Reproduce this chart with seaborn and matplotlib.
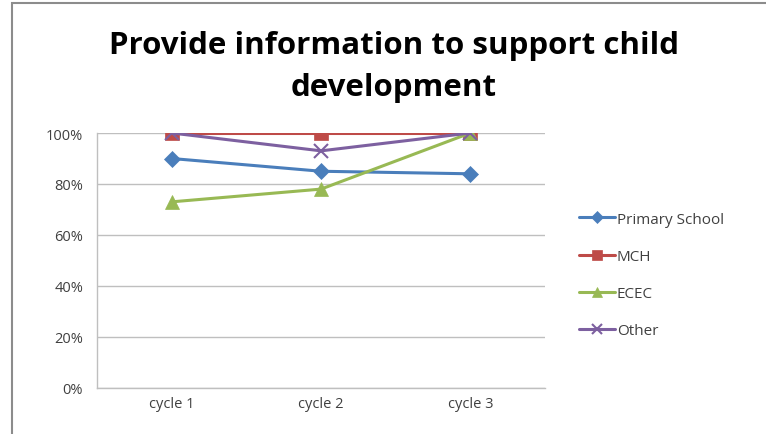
import matplotlib
matplotlib.use("Agg")
import matplotlib.pyplot as plt
from matplotlib.patches import Rectangle
from matplotlib.ticker import PercentFormatter
import seaborn as sns
import pandas as pd

cycles = ["cycle 1", "cycle 2", "cycle 3"]
series_names = ["Primary School", "MCH", "ECEC", "Other"]
primary_school = [0.90, 0.85, 0.84]
mch = [1.00, 1.00, 1.00]
ecec = [0.73, 0.78, 1.00]
other = [1.00, 0.93, 1.00]

colors = ["#4A7EBB", "#BE4B48", "#98B954", "#7D60A0"]
markers = ["D", "s", "^", "x"]
marker_sizes = [8, 10, 10, 10]

df = pd.DataFrame({
    "cycle": cycles * 4,
    "share": primary_school + mch + ecec + other,
    "service": sum([[n] * 3 for n in series_names], []),
})

sns.set_theme(style="white")
plt.rcParams["font.family"] = ["Open Sans", "DejaVu Sans"]

fig = plt.figure(figsize=(7.66, 4.35), dpi=100)
ax = fig.add_axes([97 / 766, 46 / 435, 448 / 766, 255 / 435])

for name, col, mk, ms in zip(series_names, colors, markers, marker_sizes):
    sub = df[df["service"] == name]
    sns.lineplot(data=sub, x="cycle", y="share", ax=ax, color=col,
                 marker=mk, markersize=ms, linewidth=2.2, label=name,
                 markeredgecolor=col, markeredgewidth=1.5 if mk == "x" else 0.5,
                 sort=False)

ax.set_xlim(-0.5, 2.5)
ax.set_ylim(0, 1)
ax.set_yticks([0, 0.2, 0.4, 0.6, 0.8, 1.0])
ax.yaxis.set_major_formatter(PercentFormatter(1.0, decimals=0))
ax.grid(axis="y", color="#BFBFBF", linewidth=1)
ax.set_axisbelow(True)
ax.set_xlabel("")
ax.set_ylabel("")
for side in ["top", "right"]:
    ax.spines[side].set_visible(False)
for side in ["left", "bottom"]:
    ax.spines[side].set_color("#BFBFBF")
    ax.spines[side].set_linewidth(1)
ax.tick_params(axis="both", labelsize=10.5, colors="#404040", length=0, pad=6)
ax.set_xticks([-0.5, 0.5, 1.5, 2.5], minor=True)
ax.tick_params(axis="x", which="minor", length=4, color="#BFBFBF", direction="out")
ax.tick_params(axis="y", length=4, color="#BFBFBF", direction="out")

leg = ax.legend(loc="center left", bbox_to_anchor=(565 / 766, 1 - 276 / 435),
                bbox_transform=fig.transFigure, frameon=False, fontsize=11,
                handlelength=2.4, handletextpad=0.1, labelspacing=1.45,
                markerscale=0.75)
for t in leg.get_texts():
    t.set_color("#404040")

fig.text(394 / 766, 1 - 46 / 435, "Provide information to support child",
         ha="center", va="center", fontsize=22.5, fontweight="bold", color="black")
fig.text(394 / 766, 1 - 88 / 435, "development",
         ha="center", va="center", fontsize=22.5, fontweight="bold", color="black")

fig.patches.append(Rectangle((12 / 766, -0.05), 1.1, 1.05 - 4 / 435,
                             transform=fig.transFigure, fill=False,
                             edgecolor="#8C8C8C", linewidth=1.5))

fig.savefig("out.png", dpi=100)
